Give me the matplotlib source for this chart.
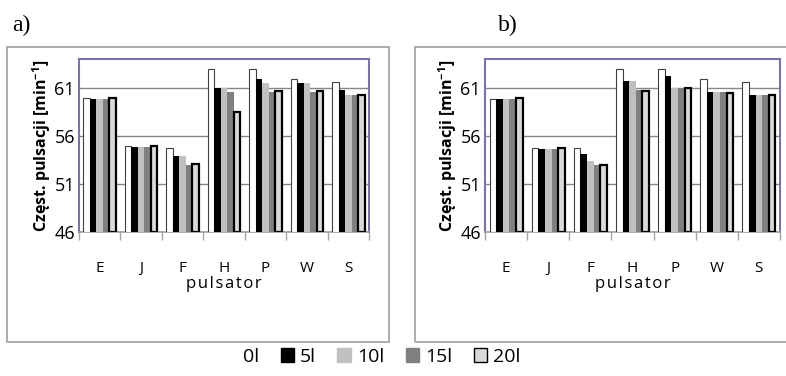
import matplotlib
matplotlib.use("Agg")
import matplotlib.pyplot as plt
import matplotlib.patches as mpatches
import numpy as np

categories = ["E", "J", "F", "H", "P", "W", "S"]
series_labels = ["0l", "5l", "10l", "15l", "20l"]

# panel a)
a_0 = [59.95, 54.9, 54.7, 63.0, 63.0, 61.95, 61.6]
a_5 = [59.9, 54.8, 53.9, 61.0, 61.95, 61.55, 60.8]
a_10 = [59.9, 54.8, 53.9, 61.0, 61.55, 61.55, 60.3]
a_15 = [59.9, 54.8, 53.0, 60.6, 60.6, 60.6, 60.3]
a_20 = [59.95, 54.9, 53.05, 58.5, 60.65, 60.65, 60.3]

# panel b)
b_0 = [59.9, 54.7, 54.7, 63.0, 63.0, 61.95, 61.6]
b_5 = [59.9, 54.65, 54.1, 61.75, 62.3, 60.6, 60.3]
b_10 = [59.9, 54.65, 53.4, 61.75, 61.0, 60.6, 60.3]
b_15 = [59.9, 54.65, 52.95, 60.8, 61.0, 60.6, 60.3]
b_20 = [59.95, 54.7, 53.0, 60.65, 61.0, 60.45, 60.3]

yticks = [46, 51, 56, 61]
ymin, ymax = 46, 64

fills = ["#ffffff", "#000000", "#c0c0c0", "#808080", "#d9d9d9"]
edges = ["#404040", "none", "none", "none", "#000000"]
lws = [0.8, 0, 0, 0, 1.6]

W, H = 786, 376
fig = plt.figure(figsize=(W / 100, H / 100), dpi=100)

# outer chart borders
for (x0, x1) in [(7, 389), (415, 800)]:
    fig.add_artist(mpatches.Rectangle((x0 / W, 1 - 342 / H), (x1 - x0) / W, (342 - 47) / H,
                                      transform=fig.transFigure, fill=False,
                                      edgecolor="#a6a6a6", lw=1.3))

FONT = "Open Sans"

def draw(ax, data):
    n = len(data)
    x = np.arange(len(categories))
    w = 0.157
    for i, vals in enumerate(data):
        off = (i - (n - 1) / 2) * w
        heights = np.array(vals) - ymin
        ax.bar(x + off, heights, width=w, bottom=ymin, color=fills[i],
               edgecolor=edges[i], linewidth=lws[i], zorder=3)
    ax.set_ylim(ymin, ymax)
    ax.set_xlim(-0.5, len(categories) - 0.5)
    ax.set_yticks(yticks)
    ax.yaxis.grid(True, color="#868686", lw=1.0, zorder=0)
    ax.set_axisbelow(True)
    ax.set_xticks(x)
    ax.set_xticklabels(categories, fontsize=11, family=FONT)
    ax.set_xticks(np.arange(-0.5, len(categories)), minor=True)
    ax.tick_params(axis="x", which="major", length=0, pad=21)
    ax.tick_params(axis="x", which="minor", length=6, color="#a6a6a6", width=1.0, direction="out")
    ax.tick_params(axis="y", length=0, pad=3)
    for lab in ax.get_yticklabels():
        lab.set_fontsize(13)
        lab.set_family(FONT)
    for s in ["top", "right", "left"]:
        ax.spines[s].set_color("#7676a6")
        ax.spines[s].set_linewidth(1.5)
    ax.spines["bottom"].set_color("#a0a0a0")
    ax.spines["bottom"].set_linewidth(1.2)
    ax.set_ylabel("Częst. pulsacji [min$^{\\mathregular{-1}}$]", fontsize=11.5,
                  fontweight="bold", family=FONT, labelpad=1)
    ax.set_xlabel("p u l s a t o r".replace(" ", "\u200a"), fontsize=12, family=FONT, labelpad=0)

ax1 = fig.add_axes([79 / W, 1 - 231.7 / H, (369 - 79) / W, (231.7 - 59.3) / H])
draw(ax1, [a_0, a_5, a_10, a_15, a_20])
ax2 = fig.add_axes([485 / W, 1 - 231.7 / H, (780 - 485) / W, (231.7 - 59.3) / H])
draw(ax2, [b_0, b_5, b_10, b_15, b_20])

fig.text(12 / W, 1 - 31 / H, "a)", fontsize=17, family="Liberation Serif")
fig.text(498 / W, 1 - 31 / H, "b)", fontsize=17, family="Liberation Serif")

handles = [mpatches.Patch(facecolor=fills[i],
                          edgecolor=("#ffffff" if i == 0 else edges[i] if edges[i] != "none" else fills[i]),
                          linewidth=1.0) for i in range(5)]
fig.legend(handles, series_labels, loc="center", bbox_to_anchor=(372 / W, 1 - 357 / H),
           ncol=5, frameon=False, prop={"family": FONT, "size": 14},
           handlelength=0.7, handleheight=0.7, handletextpad=0.3, columnspacing=1.1)

fig.savefig("out.png", dpi=100)
